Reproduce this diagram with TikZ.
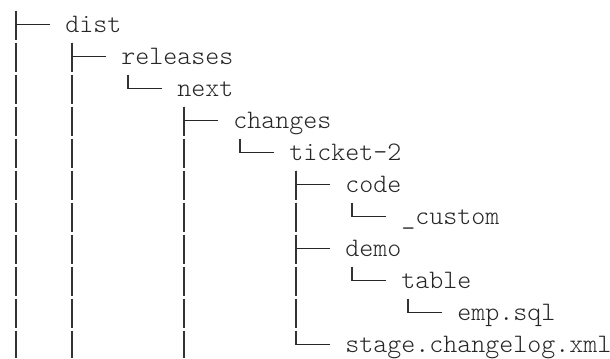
\documentclass[tikz,border=0pt]{standalone}
\usepackage{fontspec}
\usetikzlibrary{calc}
\tikzset{
  lbl/.style={anchor=base west, inner sep=0pt, font=\ttfamily\fontseries{l}\selectfont\fontsize{20pt}{22pt}\selectfont, text=black!85},
  vbar/.style={draw=black!80, line width=1.3pt, dash pattern=on 21.75pt off 2.25pt},
  hbar/.style={draw=black!85, line width=1.3pt},
}
\newcommand\treebranch[2]{%
  \draw[vbar] ($(#1.base west)+(7,10.5)$) -- ($(#2.base west)+(-49,-7)$);
  \draw[hbar] ($(#2.base west)+(-49,-7.6)$) -- ($(#2.base west)+(-15,-7.6)$);
}
\begin{document}
\begin{tikzpicture}[x=0.75pt,y=-0.75pt]
\useasboundingbox (0,0) rectangle (610,358);
\node[lbl] (dist) at (65,32) {dist};
\node[lbl] (releases) at (121,64) {releases};
\node[lbl] (next) at (177,96) {next};
\node[lbl] (changes) at (233,128) {changes};
\node[lbl] (ticket) at (289,160) {ticket-2};
\node[lbl] (code) at (345,192) {code};
\node[lbl] (custom) at (401,224) {\_custom};
\node[lbl] (demo) at (345,256) {demo};
\node[lbl] (table) at (401,288) {table};
\node[lbl] (emp) at (457,320) {emp.sql};
\node[lbl] (stage) at (345,352) {stage.changelog.xml};
% open bars continuing beyond the excerpt
\coordinate (top0) at (16,10.5);
\coordinate (bot0) at (16,358);
\coordinate (bot4) at (72,358);
\coordinate (bot12) at (184,358);
\draw[vbar] (top0) -- (bot0);
\draw[hbar] ($(dist.base west)+(-49,-7.6)$) -- ($(dist.base west)+(-15,-7.6)$);
\draw[vbar] ($(dist.base west)+(7,10.5)$) -- (bot4);
\draw[vbar] ($(next.base west)+(7,10.5)$) -- (bot12);
% tree connectors
\treebranch{dist}{releases}
\treebranch{releases}{next}
\treebranch{next}{changes}
\treebranch{changes}{ticket}
\treebranch{ticket}{code}
\treebranch{code}{custom}
\treebranch{ticket}{demo}
\treebranch{demo}{table}
\treebranch{table}{emp}
\treebranch{ticket}{stage}
\end{tikzpicture}
\end{document}
